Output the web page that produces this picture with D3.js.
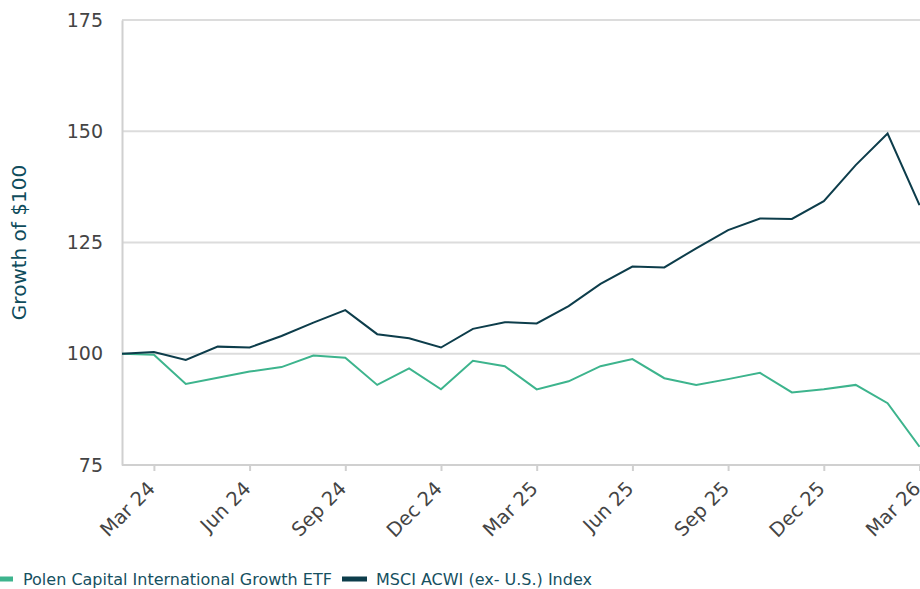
<!DOCTYPE html>
<html>
<head>
<meta charset="utf-8">
<script src="https://cdn.jsdelivr.net/npm/d3@7"></script>
<style>
  body { margin: 0; background: #fff; }
  svg { display: block; font-family: "DejaVu Sans", sans-serif; }
</style>
</head>
<body>
<svg id="chart" width="920" height="589"></svg>
<script>
const months = ["Feb 24","Mar 24","Apr 24","May 24","Jun 24","Jul 24","Aug 24","Sep 24","Oct 24","Nov 24","Dec 24",
  "Jan 25","Feb 25","Mar 25","Apr 25","May 25","Jun 25","Jul 25","Aug 25","Sep 25","Oct 25","Nov 25","Dec 25",
  "Jan 26","Feb 26","Mar 26"];
const polen = [100, 99.8, 93.2, 94.6, 96.0, 97.0, 99.6, 99.1, 93.0, 96.7, 92.0,
  98.4, 97.2, 92.0, 93.8, 97.2, 98.8, 94.5, 93.0, 94.3, 95.7, 91.3, 92.0,
  93.0, 88.9, 79.1];
const msci = [100, 100.4, 98.6, 101.6, 101.4, 104.0, 107.0, 109.8, 104.4, 103.5, 101.4,
  105.6, 107.1, 106.8, 110.7, 115.7, 119.6, 119.4, 123.7, 127.8, 130.4, 130.3, 134.3,
  142.4, 149.5, 133.4];
const xTicks = ["Mar 24","Jun 24","Sep 24","Dec 24","Mar 25","Jun 25","Sep 25","Dec 25","Mar 26"];
const yTicks = [75, 100, 125, 150, 175];
const seriesNames = ["Polen Capital International Growth ETF", "MSCI ACWI (ex- U.S.) Index"];
const colors = ["#3db48d", "#0d3d4b"];

const width = 920, height = 589;
const margin = {top: 20, right: 0.5, bottom: 124, left: 122};

const svg = d3.select("#chart");

const x = d3.scalePoint()
  .domain(months)
  .range([margin.left, width - margin.right]);

const y = d3.scaleLinear()
  .domain([75, 175])
  .range([height - margin.bottom, margin.top]);

// gridlines
svg.append("g")
  .selectAll("line")
  .data(yTicks.filter(d => d > 75))
  .join("line")
    .attr("x1", margin.left)
    .attr("x2", width)
    .attr("y1", d => y(d))
    .attr("y2", d => y(d))
    .attr("stroke", "#dcdcdc")
    .attr("stroke-width", 2);

// y axis
svg.append("g")
  .attr("transform", `translate(${margin.left},0)`)
  .call(d3.axisLeft(y).tickValues(yTicks).tickSize(0).tickPadding(19))
  .call(g => g.select(".domain").attr("stroke", "#d0d0d0").attr("stroke-width", 2))
  .call(g => g.selectAll("text").attr("fill", "#444").attr("font-size", 19).attr("font-family", "DejaVu Sans"));

// x axis
svg.append("g")
  .attr("transform", `translate(0,${height - margin.bottom})`)
  .call(d3.axisBottom(x).tickValues(xTicks).tickSize(6).tickSizeOuter(0))
  .call(g => g.select(".domain").attr("stroke", "#d0d0d0").attr("stroke-width", 2)
    .attr("d", `M${margin.left},0H${width}`))
  .call(g => g.selectAll(".tick line").attr("stroke", "#d0d0d0").attr("stroke-width", 2))
  .call(g => g.selectAll("text")
    .attr("fill", "#444")
    .attr("font-size", 19.5)
    .attr("font-family", "DejaVu Sans")
    .attr("text-anchor", "end")
    .attr("dy", "0.35em")
    .attr("transform", "translate(-3,20) rotate(-45)")
    .attr("x", 0)
    .attr("y", 0));

// y title
svg.append("text")
  .attr("transform", `translate(26,${(margin.top + height - margin.bottom) / 2}) rotate(-90)`)
  .attr("text-anchor", "middle")
  .attr("fill", "#0f4c5c")
  .attr("font-size", 20)
  .text("Growth of $100");

// lines
const line = d3.line()
  .x((d, i) => x(months[i]))
  .y(d => y(d));

svg.append("g")
  .selectAll("path")
  .data([polen, msci])
  .join("path")
    .attr("fill", "none")
    .attr("stroke", (d, i) => colors[i])
    .attr("stroke-width", 2)
    .attr("stroke-linejoin", "miter")
    .attr("d", line);

// legend
const legend = svg.append("g").attr("transform", "translate(0,579)");
const items = [{x: 0, w: 13, tx: 23}, {x: 342, w: 25, tx: 376}];
items.forEach((it, i) => {
  legend.append("rect")
    .attr("x", it.x).attr("y", -2.5)
    .attr("width", it.w).attr("height", 5)
    .attr("fill", colors[i]);
  legend.append("text")
    .attr("x", it.tx).attr("y", 0)
    .attr("dy", "0.35em")
    .attr("fill", "#16505f")
    .attr("font-size", 16)
    .text(seriesNames[i]);
});
</script>
</body>
</html>
